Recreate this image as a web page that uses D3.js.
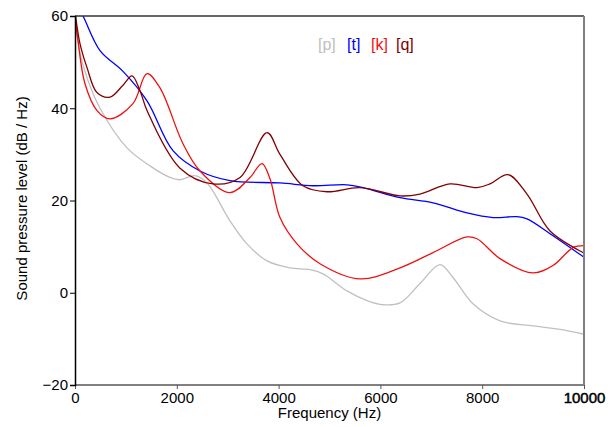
<!DOCTYPE html>
<meta charset="utf-8">
<script src="https://d3js.org/d3.v7.min.js"></script>
<style>
  body { margin: 0; background: #fff; }
  text { font-family: "Liberation Sans", Arial, sans-serif; }
</style>
<div id="chart"></div>
<script>

var width = 608, height = 427;
var margin = {left: 75, right: 24, top: 16, bottom: 42};

// dados
var freqP = [0, 98, 236, 491, 1022, 1473, 1866, 2063, 2358, 2593, 3045, 3379, 3772, 4224, 4617, 4872, 5344, 5737, 6051, 6385, 6778, 7171, 7426, 7819, 8350, 8998, 9500, 10000];
var valP  = [60, 52, 46.6, 40, 31.4, 27.5, 25, 24.5, 25.4, 23.8, 15.6, 10.6, 6.9, 5.4, 5, 4.1, 0.4, -1.7, -2.6, -2.2, 2, 6.1, 3.3, -2.4, -6.1, -7.2, -7.9, -9];

var freqT = [0, 157, 491, 943, 1415, 1925, 2456, 3045, 4027, 4676, 5344, 5658, 6385, 7033, 7701, 8212, 8684, 8880, 9332, 10000];
var valT  = [63, 60, 52.5, 48, 41.6, 30.8, 26.4, 24.3, 23.8, 23.2, 23.4, 22.8, 20.6, 19.5, 17.3, 16.3, 16.5, 16, 12.8, 7.7];

var freqK = [0, 59, 196, 432, 688, 1139, 1415, 1670, 2122, 2456, 3045, 3438, 3674, 3831, 4027, 4361, 4813, 5599, 6385, 7033, 7701, 7898, 8350, 8998, 9391, 9784, 10000];
var valK  = [60, 54.6, 45.3, 39.5, 37.7, 41, 47.5, 44.4, 32.3, 26.4, 21.7, 25, 28, 24.7, 16.3, 10.6, 6.3, 3, 5.4, 8.7, 12.1, 11.7, 7.4, 4.3, 5.9, 9.8, 10.2];

var freqQ = [0, 98, 236, 432, 688, 943, 1120, 1277, 1415, 2063, 2711, 3242, 3772, 4027, 4479, 4951, 5599, 6385, 6778, 7367, 7898, 8153, 8507, 8880, 9332, 10000];
var valQ  = [61, 54, 48.8, 43.4, 42.4, 45, 47, 43.8, 39.5, 27, 23.6, 25, 34.7, 30, 23.2, 21.9, 22.8, 21, 21.4, 23.6, 22.8, 23.6, 25.6, 21.4, 13.4, 8.6];

var series = [
  {name: "[p]", freq: freqP, val: valP, cor: "#c0c0c0"},
  {name: "[t]", freq: freqT, val: valT, cor: "#0000ff"},
  {name: "[k]", freq: freqK, val: valK, cor: "#ee1111"},
  {name: "[q]", freq: freqQ, val: valQ, cor: "#800000"}
];

var xTicks = [0, 2000, 4000, 6000, 8000, 10000];
var yTicks = [-20, 0, 20, 40, 60];

var svg = d3.select("#chart")
  .append("svg")
  .attr("width", width)
  .attr("height", height);

var x = d3.scaleLinear().domain([0, 10000]).range([margin.left, width - margin.right]);
var y = d3.scaleLinear().domain([-20, 60]).range([height - margin.bottom, margin.top]);

svg.append("clipPath").attr("id", "clip")
  .append("rect")
  .attr("x", x(0)).attr("y", y(60))
  .attr("width", x(10000) - x(0)).attr("height", y(-20) - y(60));

var line = d3.line()
  .x(function(d) { return x(d[0]); })
  .y(function(d) { return y(d[1]); })
  .curve(d3.curveCatmullRom.alpha(0.5));

svg.append("g")
  .attr("clip-path", "url(#clip)")
  .selectAll("path")
  .data(series)
  .join("path")
  .attr("d", function(s) { return line(s.freq.map(function(f, i) { return [f, s.val[i]]; })); })
  .attr("fill", "none")
  .attr("stroke", function(s) { return s.cor; })
  .attr("stroke-width", 1.3);

// moldura
svg.append("line").attr("x1", x(0)).attr("x2", x(10000)).attr("y1", y(60)).attr("y2", y(60))
  .attr("stroke", "#333").attr("stroke-width", 1.5);
svg.append("line").attr("x1", x(10000)).attr("x2", x(10000)).attr("y1", y(60)).attr("y2", y(-20))
  .attr("stroke", "#808080").attr("stroke-width", 2);
svg.append("line").attr("x1", x(0)).attr("x2", x(10000)).attr("y1", y(-20)).attr("y2", y(-20))
  .attr("stroke", "#808080").attr("stroke-width", 2);

// eixos
var xAxis = svg.append("g")
  .attr("transform", "translate(0," + y(-20) + ")")
  .call(d3.axisBottom(x).tickValues(xTicks).tickSize(4).tickFormat(d3.format("d")));
xAxis.select(".domain").remove();
xAxis.selectAll("line").attr("stroke", "#555");
xAxis.selectAll("text")
  .attr("font-size", 15)
  .attr("fill", "#000")
  .attr("font-family", "Liberation Sans, Arial, sans-serif")
  .attr("stroke", function(d) { return d == 10000 ? "#000" : "none"; })
  .attr("stroke-width", 0.5);

var yAxis = svg.append("g")
  .attr("transform", "translate(" + x(0) + ",0)")
  .call(d3.axisLeft(y).tickValues(yTicks).tickSize(5).tickPadding(2)
    .tickFormat(function(d) { return d < 0 ? "\u2212" + Math.abs(d) : d; }));
yAxis.select(".domain").attr("stroke", "#000").attr("stroke-width", 1.5);
yAxis.selectAll("line").attr("stroke", "#000");
yAxis.selectAll("text")
  .attr("font-size", 15)
  .attr("fill", "#000")
  .attr("font-family", "Liberation Sans, Arial, sans-serif");

// titulos dos eixos
svg.append("text")
  .attr("x", (x(0) + x(10000)) / 2)
  .attr("y", 418)
  .attr("text-anchor", "middle")
  .attr("font-size", 15)
  .text("Frequency (Hz)");

svg.append("text")
  .attr("transform", "translate(27," + (y(20) - 2) + ") rotate(-90)")
  .attr("text-anchor", "middle")
  .attr("font-size", 15)
  .text("Sound pressure level (dB / Hz)");

// legenda
var legX = [318, 347, 371, 396];
svg.selectAll(".leg")
  .data(series)
  .join("text")
  .attr("class", "leg")
  .attr("x", function(d, i) { return legX[i]; })
  .attr("y", 50)
  .attr("font-size", 16)
  .attr("fill", function(d) { return d.cor; })
  .text(function(d) { return d.name; });

</script>
